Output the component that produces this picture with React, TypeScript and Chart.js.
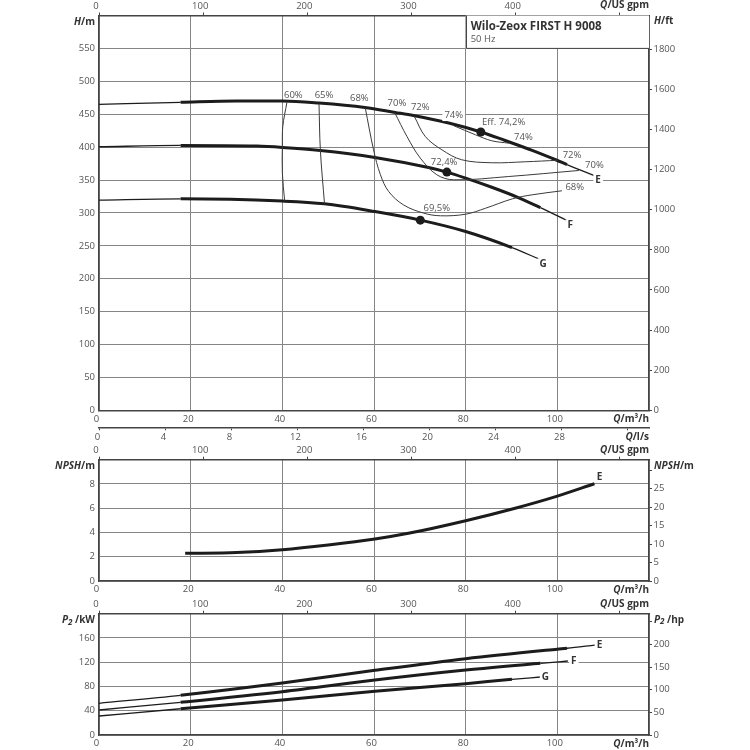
import React, { useEffect, useRef } from "react";
import { Chart, registerables } from "chart.js";

Chart.register(...registerables);

const FONT = '"Open Sans", sans-serif';
const TEXT = "#555";
const DARK = "#333";
const AXIS = "#444";
const GRID = "#858585";

// Q/H curves
const eQ = [0, 17.8, 30, 40, 48, 58, 64.6, 68.6, 76.3, 83.3, 88.6, 94.5, 99.9, 102.1, 108.2];
const eH = [464.9, 468, 470, 470, 467, 460.3, 452.7, 448, 436.6, 423, 410, 395, 380, 373.5, 356.4];
const fQ = [0, 17.8, 34.4, 40, 48.3, 60.2, 71.9, 75.9, 80, 85.7, 91.6, 96.3, 102.1];
const fH = [400.5, 402.5, 401.5, 399.5, 394.9, 384.3, 369, 362, 352.9, 339, 323, 308, 288.4];
const gQ = [0, 17.8, 40, 49.2, 60.2, 70.1, 80, 90.1, 96.1];
const gH = [319.4, 321.4, 317.9, 313.8, 302, 289, 271.7, 247.3, 229.7];

// efficiency lines
const iso60Q = [41, 40.1, 40, 40, 40.5];
const iso60H = [468, 431.4, 400, 361, 318.4];
const iso65Q = [48, 48.3, 49.2];
const iso65H = [466, 395, 313.8];
const iso68Q = [58.1, 59.9, 61.4, 63.2, 66.4, 70.8, 74.5, 80, 84.3, 90.2, 94.5, 101];
const iso68H = [459.4, 396, 358, 332.5, 312.3, 299.7, 295.6, 298, 307, 321.4, 327.5, 333.6];
const iso70Q = [64.5, 67.2, 70.1, 73.7, 77.4, 89.4, 104.7];
const iso70H = [452.7, 416, 383.3, 358, 350.3, 355.3, 364.5];
const iso72Q = [68.8, 71.2, 74.8, 79.1, 85.7, 93, 100.1];
const iso72H = [446.6, 416, 396, 380.8, 376.2, 377.7, 380];
const iso74Q = [77.4, 82.1, 85.7, 89.4];
const iso74H = [432.5, 418.8, 409.6, 406];

// best efficiency points
const bepQ = [83.3, 75.9, 70.1];
const bepH = [422.9, 362, 289];

// NPSH
const npshQ = [18.8, 30, 40, 50, 60.2, 67.5, 80, 90.8, 100, 108.1];
const npshM = [2.28, 2.35, 2.58, 2.97, 3.46, 3.93, 4.97, 6, 7, 8.02];

// P2
const pEQ = [0, 17.8, 40, 60.2, 80, 100, 102.1, 108.2];
const pEKw = [52.2, 65.5, 85.7, 106.6, 125.8, 141.5, 143, 148.3];
const pFQ = [0, 17.8, 40, 60.2, 80, 96.3, 102.3];
const pFKw = [41.2, 53.9, 71.4, 90.7, 107.2, 118.2, 122];
const pGQ = [0, 17.8, 40, 60.2, 80, 90.1, 96.3];
const pGKw = [31.3, 43.3, 57.7, 72, 84.6, 91.8, 95.6];

// right axis ticks, some marks carry no number in the original
const headFtTicks = [0, 200, 400, 600, 800, 1000, 1200, 1400, 1600, 1800];
const headFtLabels = headFtTicks;
const npshFtTicks = [0, 5, 10, 15, 20, 25, 30];
const npshFtLabels = [0, 5, 10, 15, 20, 25];
const powerHpTicks = [0, 50, 100, 150, 200, 250];
const powerHpLabels = [0, 50, 100, 150, 200];

// text sitting in the plot
const headText = ["60%", "65%", "68%", "70%", "72%", "74%", "Eff. 74,2%", "74%", "72%", "70%", "68%", "69,5%", "72,4%"];
const headTextQ = [42.4, 49.1, 56.8, 65, 70.1, 77.4, 88.3, 92.6, 103.2, 108.1, 103.8, 73.7, 75.3];
const headTextH = [479.4, 478, 473.5, 466.4, 460.9, 448.7, 437.5, 415, 387.3, 372, 338.6, 307.7, 376.6];
const headBoxed = [false, false, false, false, false, true, false, false, false, false, false, false, false];
const curveNames = ["E", "F", "G"];
const headNameQ = [108.9, 102.8, 96.9];
const headNameH = [349.9, 280.8, 222];
const npshName = ["E"];
const npshNameQ = [109.2];
const npshNameM = [8.52];
const powerNameQ = [109.2, 103.6, 97.4];
const powerNameKw = [148.3, 122.5, 95.6];

const zip = (q: number[], v: number[]) => q.map((x, i) => ({ x, y: v[i] }));

const pumpCurve = (q: number[], v: number[], from: number, to: number) => ({
  data: zip(q, v),
  borderColor: "#1c1c1c",
  borderWidth: 3,
  pointRadius: 0,
  cubicInterpolationMode: "monotone",
  segment: {
    borderWidth: (ctx: any) => (ctx.p0.parsed.x >= from && ctx.p1.parsed.x <= to ? 3 : 1.3),
  },
});

const isoLine = (q: number[], h: number[]) => ({
  data: zip(q, h),
  borderColor: "#3a3a3a",
  borderWidth: 1,
  pointRadius: 0,
  tension: 0.35,
});

const dots = (q: number[], h: number[]) => ({
  data: zip(q, h),
  showLine: false,
  pointRadius: 4.5,
  pointBackgroundColor: "#1c1c1c",
  pointBorderWidth: 0,
});

type Run = { text: string; italic?: boolean; sub?: boolean };

const runFont = (r: Run) => `${r.italic ? "italic " : ""}bold ${r.sub ? 8 : 10}px ${FONT}`;

// axis captions mix italic and upright parts, so they go piece by piece
const drawRuns = (ctx: CanvasRenderingContext2D, runs: Run[], x: number, y: number, align: "left" | "right") => {
  ctx.textAlign = "left";
  ctx.textBaseline = "middle";
  ctx.fillStyle = DARK;
  const widths = runs.map((r) => {
    ctx.font = runFont(r);
    return ctx.measureText(r.text).width;
  });
  let px = align === "right" ? x - widths.reduce((a, b) => a + b, 0) : x;
  runs.forEach((r, i) => {
    ctx.font = runFont(r);
    ctx.fillText(r.text, px, r.sub ? y + 2.5 : y);
    px += widths[i];
  });
};

const Q_M3H: Run[] = [{ text: "Q", italic: true }, { text: "/m³/h" }];
const Q_GPM: Run[] = [{ text: "Q", italic: true }, { text: "/US gpm" }];
const Q_LS: Run[] = [{ text: "Q", italic: true }, { text: "/l/s" }];

type PanelProps = {
  top: number;
  height: number;
  areaTop: number;
  areaBottom: number;
  datasets: any[];
  yMax: number;
  yStep: number;
  rightMax: number;
  rightTicks: number[];
  rightLabels: number[];
  leftTitle: Run[];
  rightTitle: Run[];
  notes: { text: string; q: number; v: number; bold?: boolean; boxed?: boolean }[];
  withLs?: boolean;
  withNameplate?: boolean;
};

const tickFont = { family: FONT, size: 9.5 };

const Panel: React.FC<PanelProps> = (p) => {
  const canvasRef = useRef<HTMLCanvasElement>(null);

  useEffect(() => {
    if (!canvasRef.current) return;

    const overlay = {
      id: "overlay",
      beforeDatasetsDraw(chart: any) {
        if (!p.withNameplate) return;
        const { ctx, scales } = chart;
        const x0 = scales.x.getPixelForValue(80);
        const x1 = scales.x.getPixelForValue(120);
        const y0 = scales.y.getPixelForValue(600);
        const y1 = scales.y.getPixelForValue(550);
        ctx.save();
        ctx.fillStyle = "#fff";
        ctx.fillRect(x0, y0, x1 - x0, y1 - y0);
        ctx.strokeStyle = AXIS;
        ctx.lineWidth = 1;
        ctx.beginPath();
        ctx.moveTo(Math.round(x0) + 0.5, y0);
        ctx.lineTo(Math.round(x0) + 0.5, y1);
        ctx.lineTo(x1, y1);
        ctx.stroke();
        ctx.textAlign = "left";
        ctx.textBaseline = "middle";
        ctx.fillStyle = DARK;
        ctx.font = `bold 11.5px ${FONT}`;
        ctx.fillText("Wilo-Zeox FIRST H 9008", x0 + 5, y0 + 11);
        ctx.fillStyle = TEXT;
        ctx.font = `9.5px ${FONT}`;
        ctx.fillText("50 Hz", x0 + 5, y0 + 23.5);
        ctx.restore();
      },
      afterDatasetsDraw(chart: any) {
        const { ctx, scales, chartArea } = chart;
        ctx.save();
        p.notes.forEach((n) => {
          const x = scales.x.getPixelForValue(n.q);
          const y = scales.y.getPixelForValue(n.v);
          ctx.font = `${n.bold ? "bold 10px" : "9.5px"} ${FONT}`;
          if (n.boxed) {
            const w = ctx.measureText(n.text).width;
            ctx.fillStyle = "#fff";
            ctx.fillRect(x - w / 2 - 2, y - 6, w + 4, 12);
          }
          ctx.textAlign = "center";
          ctx.textBaseline = "middle";
          ctx.fillStyle = n.bold ? DARK : TEXT;
          ctx.fillText(n.text, x, y);
        });
        drawRuns(ctx, p.leftTitle, chartArea.left - 4, chartArea.top + 6.5, "right");
        drawRuns(ctx, p.rightTitle, chartArea.right + 5, chartArea.top + 6, "left");
        drawRuns(ctx, Q_GPM, chartArea.right, chartArea.top - 10, "right");
        drawRuns(ctx, Q_M3H, chartArea.right, chartArea.bottom + 9, "right");
        if (p.withLs) drawRuns(ctx, Q_LS, chartArea.right, chartArea.bottom + 26.5, "right");
        ctx.restore();
      },
    };

    const bottomGap = p.withLs ? 17 : p.height - p.areaBottom;
    const scales: any = {
      x: {
        type: "linear",
        position: "bottom",
        weight: 0,
        min: 0,
        max: 120,
        afterFit: (s: any) => {
          s.height = bottomGap;
        },
        border: { color: AXIS, width: 1.5 },
        grid: { color: GRID, lineWidth: 1, drawTicks: false },
        ticks: {
          stepSize: 20,
          includeBounds: false,
          autoSkip: false,
          maxRotation: 0,
          padding: 3,
          labelOffset: -2.5,
          color: TEXT,
          font: tickFont,
          callback: (v: number) => (v > 100 ? "" : String(v)),
        },
      },
      xGpm: {
        type: "linear",
        position: "top",
        min: 0,
        max: 528,
        afterFit: (s: any) => {
          s.height = p.areaTop;
        },
        border: { color: AXIS, width: 1.5 },
        grid: { drawOnChartArea: false, tickLength: 3, tickColor: AXIS },
        ticks: {
          stepSize: 100,
          includeBounds: false,
          autoSkip: false,
          maxRotation: 0,
          padding: 1,
          labelOffset: -3,
          color: TEXT,
          font: tickFont,
          callback: (v: number) => (v > 400 ? "" : String(v)),
        },
      },
      y: {
        type: "linear",
        position: "left",
        min: 0,
        max: p.yMax,
        afterFit: (s: any) => {
          s.width = 99;
        },
        border: { color: AXIS, width: 1.5 },
        grid: { color: GRID, lineWidth: 1, drawTicks: false },
        ticks: {
          stepSize: p.yStep,
          includeBounds: false,
          autoSkip: false,
          padding: 4,
          color: TEXT,
          font: tickFont,
          callback: (v: number) => (v >= p.yMax ? "" : String(v)),
        },
      },
      yRight: {
        type: "linear",
        position: "right",
        min: 0,
        max: p.rightMax,
        afterFit: (s: any) => {
          s.width = 101;
        },
        afterBuildTicks: (s: any) => {
          s.ticks = p.rightTicks.map((value) => ({ value }));
        },
        border: { color: AXIS, width: 1.5 },
        grid: { drawOnChartArea: false, tickLength: 3, tickColor: AXIS },
        ticks: {
          autoSkip: false,
          padding: 1.5,
          color: TEXT,
          font: tickFont,
          callback: (v: number) => (p.rightLabels.includes(v) ? String(v) : ""),
        },
      },
    };
    if (p.withLs) {
      scales.xLs = {
        type: "linear",
        position: "bottom",
        weight: 1,
        min: 0,
        max: 120 / 3.6,
        afterFit: (s: any) => {
          s.height = p.height - p.areaBottom - bottomGap;
        },
        border: { color: AXIS, width: 1.5 },
        grid: { drawOnChartArea: false, tickLength: 3, tickColor: AXIS },
        ticks: {
          stepSize: 4,
          includeBounds: false,
          autoSkip: false,
          maxRotation: 0,
          padding: 1,
          labelOffset: -1.5,
          color: TEXT,
          font: tickFont,
          callback: (v: number) => (v > 28 ? "" : String(v)),
        },
      };
    }

    const chart = new Chart(canvasRef.current, {
      type: "line",
      data: { datasets: p.datasets },
      plugins: [overlay],
      options: {
        responsive: false,
        animation: false,
        events: [],
        layout: { padding: 0 },
        plugins: { legend: { display: false }, tooltip: { enabled: false } },
        scales,
      } as any,
    } as any);

    return () => chart.destroy();
  }, []);

  return (
    <canvas
      ref={canvasRef}
      width={750}
      height={p.height}
      style={{ position: "absolute", left: 0, top: p.top, width: 750, height: p.height }}
    />
  );
};

const headDatasets = [
  dots(bepQ, bepH),
  isoLine(iso60Q, iso60H),
  isoLine(iso65Q, iso65H),
  isoLine(iso68Q, iso68H),
  isoLine(iso70Q, iso70H),
  isoLine(iso72Q, iso72H),
  isoLine(iso74Q, iso74H),
  pumpCurve(eQ, eH, 17.8, 102.1),
  pumpCurve(fQ, fH, 17.8, 96.3),
  pumpCurve(gQ, gH, 17.8, 90.1),
];
const npshDatasets = [pumpCurve(npshQ, npshM, 0, 120)];
const powerDatasets = [
  pumpCurve(pEQ, pEKw, 17.8, 102.1),
  pumpCurve(pFQ, pFKw, 17.8, 96.3),
  pumpCurve(pGQ, pGKw, 17.8, 90.1),
];

const headNotes = [
  ...headText.map((text, i) => ({ text, q: headTextQ[i], v: headTextH[i], boxed: headBoxed[i] })),
  ...curveNames.map((text, i) => ({ text, q: headNameQ[i], v: headNameH[i], bold: true, boxed: true })),
];
const npshNotes = npshName.map((text, i) => ({ text, q: npshNameQ[i], v: npshNameM[i], bold: true }));
const powerNotes = curveNames.map((text, i) => ({
  text,
  q: powerNameQ[i],
  v: powerNameKw[i],
  bold: true,
  boxed: true,
}));

export default function App() {
  return (
    <div style={{ position: "absolute", left: 0, top: 0, width: 750, height: 750 }}>
      <Panel
        top={0}
        height={445}
        areaTop={15.5}
        areaBottom={410.3}
        datasets={headDatasets}
        yMax={600}
        yStep={50}
        rightMax={1968.5}
        rightTicks={headFtTicks}
        rightLabels={headFtLabels}
        leftTitle={[{ text: "H", italic: true }, { text: "/m" }]}
        rightTitle={[{ text: "H", italic: true }, { text: "/ft" }]}
        notes={headNotes}
        withLs
        withNameplate
      />
      <Panel
        top={442}
        height={156}
        areaTop={17.7}
        areaBottom={139}
        datasets={npshDatasets}
        yMax={10}
        yStep={2}
        rightMax={32.8}
        rightTicks={npshFtTicks}
        rightLabels={npshFtLabels}
        leftTitle={[{ text: "NPSH", italic: true }, { text: "/m" }]}
        rightTitle={[{ text: "NPSH", italic: true }, { text: "/m" }]}
        notes={npshNotes}
      />
      <Panel
        top={595}
        height={155}
        areaTop={18.7}
        areaBottom={140}
        datasets={powerDatasets}
        yMax={200}
        yStep={40}
        rightMax={268.2}
        rightTicks={powerHpTicks}
        rightLabels={powerHpLabels}
        leftTitle={[{ text: "P", italic: true }, { text: "2", italic: true, sub: true }, { text: " /kW" }]}
        rightTitle={[{ text: "P", italic: true }, { text: "2", italic: true, sub: true }, { text: " /hp" }]}
        notes={powerNotes}
      />
    </div>
  );
}
